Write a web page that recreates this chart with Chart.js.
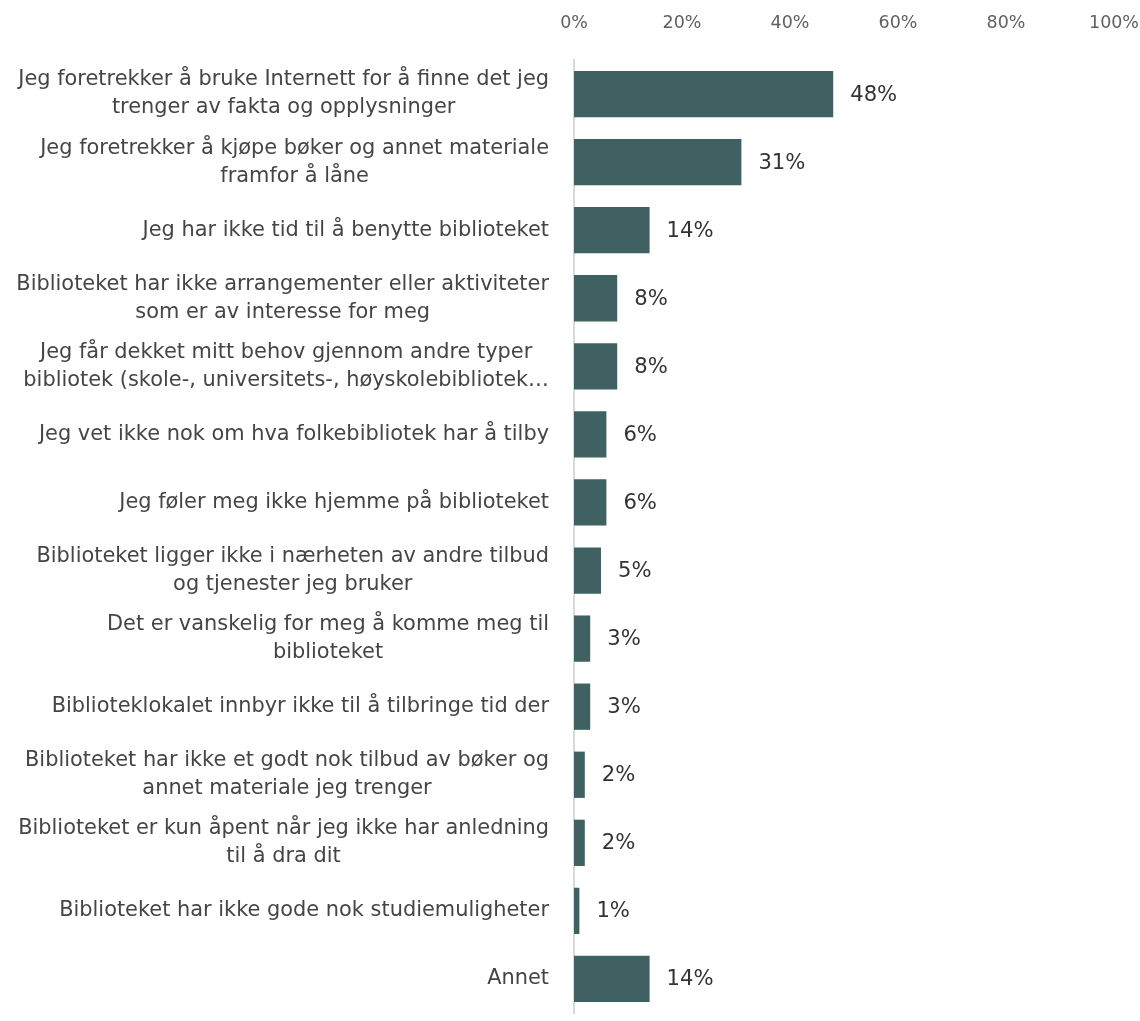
<!DOCTYPE html>
<html>
<head>
<meta charset="utf-8">
<script src="https://cdn.jsdelivr.net/npm/chart.js@4/dist/chart.umd.min.js"></script>
<style>
  html, body { margin: 0; padding: 0; background: #ffffff; }
  #wrap { width: 1140px; height: 1021px; position: relative; }
</style>
</head>
<body>
<div id="wrap"><canvas id="c"></canvas></div>
<script>
const categories = [
  ["Jeg foretrekker å bruke Internett for å finne det jeg", "trenger av fakta og opplysninger"],
  ["Jeg foretrekker å kjøpe bøker og annet materiale", "framfor å låne"],
  ["Jeg har ikke tid til å benytte biblioteket"],
  ["Biblioteket har ikke arrangementer eller aktiviteter", "som er av interesse for meg"],
  ["Jeg får dekket mitt behov gjennom andre typer", "bibliotek (skole-, universitets-, høyskolebibliotek…"],
  ["Jeg vet ikke nok om hva folkebibliotek har å tilby"],
  ["Jeg føler meg ikke hjemme på biblioteket"],
  ["Biblioteket ligger ikke i nærheten av andre tilbud", "og tjenester jeg bruker"],
  ["Det er vanskelig for meg å komme meg til", "biblioteket"],
  ["Biblioteklokalet innbyr ikke til å tilbringe tid der"],
  ["Biblioteket har ikke et godt nok tilbud av bøker og", "annet materiale jeg trenger"],
  ["Biblioteket er kun åpent når jeg ikke har anledning", "til å dra dit"],
  ["Biblioteket har ikke gode nok studiemuligheter"],
  ["Annet"]
];
const values = [48, 31, 14, 8, 8, 6, 6, 5, 3, 3, 2, 2, 1, 14];
const xTicks = [0, 20, 40, 60, 80, 100];

const FONT = '"DejaVu Sans", "Open Sans", sans-serif';

// pick font sizes so text widths match the reference typography
const mctx = document.createElement('canvas').getContext('2d');
function fitSize(text, target) {
  mctx.font = '100px ' + FONT;
  return 100 * target / mctx.measureText(text).width;
}
const labelSize = fitSize("Jeg foretrekker å bruke Internett for å finne det jeg", 531);
const tickSize = fitSize("100%", 50);
const valueSize = fitSize("48%", 47);

const labelPlugin = {
  id: 'customLabels',
  afterDatasetsDraw(chart) {
    const ctx = chart.ctx;
    const yScale = chart.scales.y;
    const area = chart.chartArea;
    ctx.save();
    ctx.font = labelSize.toFixed(2) + 'px ' + FONT;
    ctx.fillStyle = '#454545';
    ctx.textAlign = 'center';
    ctx.textBaseline = 'middle';
    const lh = 28;
    chart.data.labels.forEach((lines, i) => {
      const y = yScale.getPixelForValue(i);
      let maxW = 0;
      lines.forEach(l => { maxW = Math.max(maxW, ctx.measureText(l).width); });
      const right = area.left - 25;
      const cx = right - maxW / 2;
      lines.forEach((l, j) => {
        ctx.fillText(l, cx, y + (j - (lines.length - 1) / 2) * lh);
      });
    });
    ctx.font = valueSize.toFixed(2) + 'px ' + FONT;
    ctx.fillStyle = '#333333';
    ctx.textAlign = 'left';
    const meta = chart.getDatasetMeta(0);
    meta.data.forEach((bar, i) => {
      ctx.fillText(chart.data.datasets[0].data[i] + '%', bar.x + 17, bar.y + 1);
    });
    ctx.restore();
  }
};

new Chart(document.getElementById('c'), {
  type: 'bar',
  data: {
    labels: categories,
    datasets: [{
      data: values,
      backgroundColor: '#3f6161',
      borderWidth: 0,
      barPercentage: 0.68,
      categoryPercentage: 1.0
    }]
  },
  options: {
    indexAxis: 'y',
    responsive: true,
    maintainAspectRatio: false,
    animation: false,
    layout: { padding: { left: 574, right: 26, top: 12, bottom: 8 } },
    plugins: {
      legend: { display: false },
      tooltip: { enabled: false }
    },
    scales: {
      x: {
        position: 'top',
        min: 0,
        max: 100,
        afterBuildTicks(axis) { axis.ticks = xTicks.map(v => ({ value: v })); },
        afterFit(axis) { axis.height = 48; axis.paddingRight = 0; axis.paddingLeft = 0; },
        grid: { display: false, drawTicks: false },
        border: { display: false },
        ticks: {
          padding: 26,
          color: '#606060',
          font: { size: tickSize, family: FONT },
          callback: v => v + '%'
        }
      },
      y: {
        grid: { display: false, drawTicks: false },
        border: { display: true, color: '#d9d9d9', width: 2 },
        ticks: { display: false }
      }
    }
  },
  plugins: [labelPlugin]
});
</script>
</body>
</html>
